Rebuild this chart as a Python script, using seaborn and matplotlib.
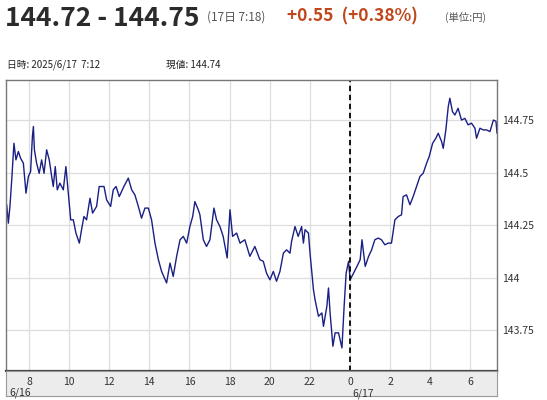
import matplotlib
matplotlib.use("Agg")
import matplotlib.pyplot as plt
import seaborn as sns
import pandas as pd

hours = [6.89,6.97,7.05,7.14,7.25,7.35,7.47,7.58,7.72,7.85,7.97,8.08,8.17,8.22,8.27,8.38,8.51,8.63,8.75,8.88,
         9.01,9.13,9.21,9.31,9.41,9.54,9.71,9.84,9.96,10.08,10.21,10.34,10.51,10.62,10.74,10.87,11.04,11.17,11.37,11.50,
         11.74,11.87,12.07,12.20,12.34,12.50,12.73,12.95,13.12,13.28,13.45,13.61,13.78,13.95,14.11,14.28,14.45,14.61,14.86,15.03,
         15.19,15.36,15.53,15.69,15.86,16.02,16.16,16.27,16.44,16.52,16.69,16.85,17.02,17.22,17.35,17.52,17.68,17.88,18.02,18.15,
         18.35,18.52,18.76,19.01,19.26,19.51,
         19.68,19.84,20.01,20.18,20.34,20.51,20.68,20.84,21.01,21.09,21.26,21.42,21.59,21.68,21.76,21.93,22.01,22.18,22.26,22.43,
         22.60,22.68,22.85,22.93,23.01,23.15,23.26,23.43,23.60,23.71,23.81,23.93,24.01,24.18,24.35,24.51,24.60,24.76,24.93,25.08,
         25.24,25.41,25.57,25.74,25.91,26.07,26.24,26.41,26.57,26.65,26.82,26.99,27.15,27.32,27.49,27.65,27.82,27.95,28.12,28.28,
         28.40,28.57,28.65,28.78,28.90,28.98,29.11,29.23,29.39,29.56,29.73,29.89,30.06,30.23,30.31,30.48,30.64,30.81,30.98,31.15,
         31.28,31.33]
prices = [144.348,144.260,144.340,144.467,144.641,144.562,144.602,144.570,144.546,144.403,144.483,144.506,144.673,144.721,144.610,144.546,144.498,144.562,144.498,144.610,
          144.562,144.483,144.435,144.530,144.419,144.451,144.419,144.530,144.403,144.276,144.276,144.213,144.165,144.229,144.292,144.276,144.379,144.308,144.340,144.435,
          144.435,144.371,144.340,144.419,144.435,144.387,144.435,144.475,144.419,144.395,144.340,144.284,144.332,144.332,144.276,144.165,144.086,144.030,143.975,144.070,
          144.006,144.102,144.181,144.197,144.165,144.244,144.292,144.363,144.324,144.300,144.181,144.149,144.181,144.332,144.276,144.244,144.197,144.094,144.324,144.197,
          144.213,144.165,144.181,144.102,144.149,144.086,
          144.078,144.022,143.990,144.030,143.983,144.030,144.117,144.133,144.117,144.173,144.244,144.197,144.244,144.165,144.229,144.213,144.117,143.943,143.895,143.816,
          143.832,143.768,143.864,143.951,143.832,143.673,143.737,143.737,143.665,143.864,144.022,144.078,143.990,144.022,144.054,144.086,144.181,144.054,144.102,144.133,
          144.181,144.189,144.181,144.157,144.165,144.165,144.276,144.292,144.300,144.387,144.395,144.348,144.387,144.435,144.483,144.498,144.546,144.578,144.641,144.665,
          144.689,144.649,144.617,144.705,144.816,144.856,144.792,144.776,144.808,144.752,144.760,144.729,144.737,144.713,144.665,144.713,144.705,144.705,144.697,144.752,
          144.746,144.689]

xticks = [8,10,12,14,16,18,20,22,24,26,28,30]
xticklabels = ["8","10","12","14","16","18","20","22","0","2","4","6"]
yticks = [143.75,144.0,144.25,144.5,144.75]
yticklabels = ["143.75","144","144.25","144.5","144.75"]

sns.set_style("white")
plt.rcParams['font.family'] = ['Noto Sans CJK JP', 'DejaVu Sans']

df = pd.DataFrame({"h": hours, "p": prices})
fig = plt.figure(figsize=(5.47, 4.0), dpi=100)
ax = fig.add_axes([6/547, 1-371/400, 491/547, 291/400])
sns.lineplot(data=df, x="h", y="p", ax=ax, color="#1a1f85", linewidth=1.0)
ax.set_xlim(6.854, 31.33)
ax.set_ylim(143.555, 144.943)
ax.set_xticks(xticks)
ax.set_yticks(yticks)
ax.set_yticklabels(yticklabels)
ax.set_xticklabels([])
ax.yaxis.tick_right()
ax.tick_params(axis='y', length=0, labelsize=7.5, colors="#333333", pad=4)
ax.tick_params(axis='x', length=0)
ax.grid(True, color="#dddddd", linewidth=0.9)
ax.set_xlabel(""); ax.set_ylabel("")
ax.axvline(24, color="black", linestyle=(0, (3, 2)), linewidth=1.3)
for s in ax.spines.values():
    s.set_color("#777777"); s.set_linewidth(1.0)
ax.spines['bottom'].set_color("#444444"); ax.spines['bottom'].set_linewidth(1.6)

bar = fig.add_axes([6/547, 1-396/400, 491/547, 25/400], facecolor="#ececec")
bar.set_xlim(6.854, 31.33); bar.set_ylim(0, 1)
bar.set_xticks([]); bar.set_yticks([])
for s in bar.spines.values():
    s.set_color("#999999"); s.set_linewidth(0.8)
for t, lab in zip(xticks, xticklabels):
    bar.text(t, 0.55, lab, ha="center", va="center", fontsize=7.5, color="#333333")
bar.text(7.0, 0.12, "6/16", ha="left", va="center", fontsize=7.5, color="#333333")
bar.text(24.1, 0.1, "6/17", ha="left", va="center", fontsize=7.5, color="#333333")

fig.text(5/547, 1-18/400, "144.72 - 144.75", fontsize=19, fontweight="bold", color="#2b2b2b", va="center")
fig.text(207/547, 1-17/400, "(17日 7:18)", fontsize=8.5, color="#555555", va="center")
fig.text(287/547, 1-16/400, "+0.55  (+0.38%)", fontsize=12.5, fontweight="bold", color="#c0461c", va="center")
fig.text(445/547, 1-17/400, "(単位:円)", fontsize=7.5, color="#555555", va="center")
fig.text(7/547, 1-65/400, "日時: 2025/6/17  7:12", fontsize=7, color="#222222", va="center")
fig.text(166/547, 1-65/400, "現値: 144.74", fontsize=7, color="#222222", va="center")

fig.savefig("out.png", dpi=100)
